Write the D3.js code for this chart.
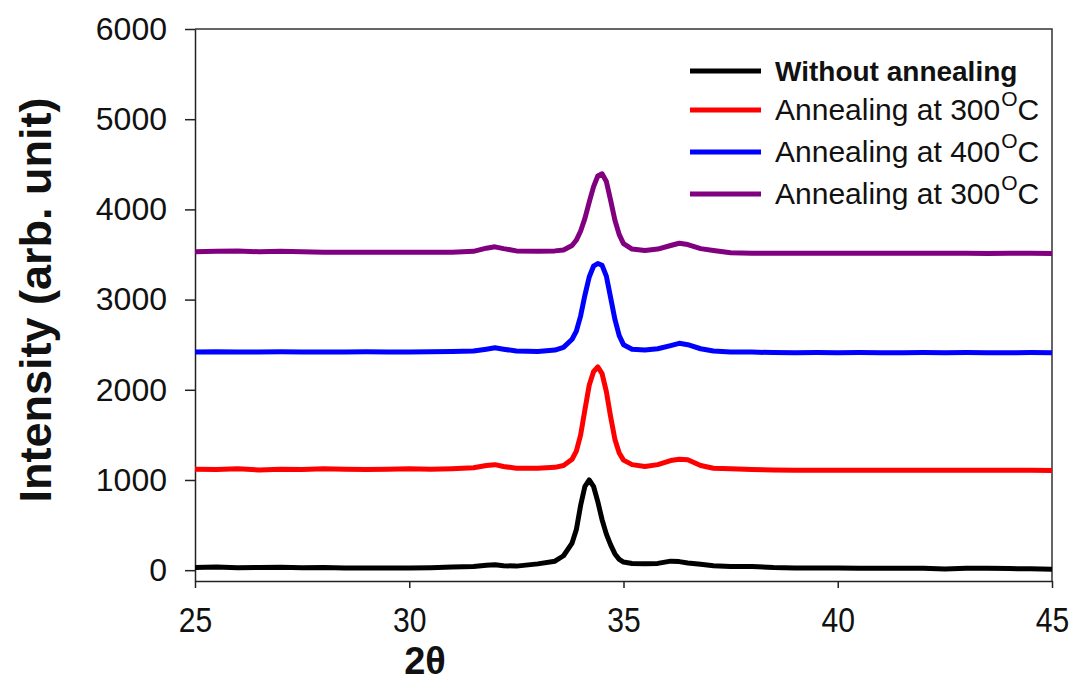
<!DOCTYPE html>
<html>
<head>
<meta charset="utf-8">
<script src="https://cdn.jsdelivr.net/npm/d3@7"></script>
<style>
  body { margin: 0; background: #fff; }
  svg { display: block; font-family: "Liberation Sans", Arial, sans-serif; }
</style>
</head>
<body>
<script>
// 2theta sample positions (shared by all four patterns)
const theta = [25, 25.5, 26, 26.5, 27, 27.5, 28, 28.5, 29, 29.5, 30, 30.5, 31, 31.5,
  31.8, 32, 32.2, 32.5, 33, 33.4, 33.6, 33.8,
  33.9, 34.0, 34.1, 34.2, 34.3, 34.4, 34.5, 34.6, 34.7, 34.8, 34.9, 35.0,
  35.2, 35.5, 35.8, 36.1, 36.3, 36.5, 36.8, 37.1, 37.5,
  38, 38.5, 39, 39.5, 40, 40.5, 41, 41.5, 42, 42.5, 43, 43.5, 44, 44.5, 45];

// intensities
const noAnneal = [30, 35, 28, 30, 32, 28, 30, 25, 25, 25, 25, 28, 35, 40,
  55, 60, 50, 45, 70, 100, 160, 300,
  450, 720, 930, 1000, 930, 760, 560, 400, 280, 180, 120, 90,
  75, 70, 75, 100, 95, 80, 65, 50, 40,
  42, 30, 25, 25, 25, 22, 22, 20, 20, 12, 20, 20, 18, 15, 10];

const anneal300 = [1120, 1115, 1125, 1110, 1120, 1115, 1125, 1120, 1115, 1120, 1125, 1120, 1125, 1135,
  1160, 1170, 1150, 1130, 1130, 1140, 1160, 1230,
  1320, 1500, 1780, 2050, 2200, 2255, 2180, 1980, 1700, 1450, 1300, 1220,
  1170, 1150, 1170, 1215, 1230, 1225, 1160, 1130, 1125,
  1115, 1110, 1108, 1108, 1108, 1108, 1108, 1108, 1108, 1108, 1108, 1108, 1108, 1108, 1105];

const anneal400 = [2420, 2422, 2418, 2420, 2422, 2420, 2418, 2420, 2422, 2420, 2420, 2422, 2425, 2430,
  2450, 2465, 2450, 2430, 2425, 2440, 2470, 2560,
  2650, 2820, 3050, 3250, 3370, 3400, 3380, 3260, 3020, 2780, 2600, 2500,
  2450, 2440, 2455, 2490, 2515, 2500, 2455, 2430, 2420,
  2418, 2412, 2410, 2412, 2410, 2412, 2410, 2410, 2412, 2410, 2412, 2410, 2410, 2412, 2410];

const anneal300b = [3530, 3535, 3540, 3530, 3535, 3530, 3525, 3525, 3525, 3525, 3525, 3525, 3525, 3535,
  3570, 3585, 3565, 3540, 3535, 3540, 3550, 3600,
  3660, 3760, 3900, 4080, 4250, 4370, 4395, 4310, 4100, 3880, 3720, 3620,
  3560, 3545, 3560, 3600, 3625, 3610, 3565, 3545, 3520,
  3515, 3515, 3515, 3515, 3515, 3515, 3515, 3515, 3515, 3515, 3515, 3510, 3515, 3515, 3512];

const seriesNames = ["Without annealing", "Annealing at 300", "Annealing at 400", "Annealing at 300"];
const seriesColors = ["#000000", "#ff0000", "#0000ff", "#800080"];
const seriesValues = [noAnneal, anneal300, anneal400, anneal300b];

const xTicks = [25, 30, 35, 40, 45];
const yTicks = [0, 1000, 2000, 3000, 4000, 5000, 6000];

// layout
const width = 1075, height = 691;
const plotLeft = 195, plotRight = 1052, plotTop = 29, plotBottom = 581;

const svg = d3.select("body").append("svg")
    .attr("width", width)
    .attr("height", height);

const x = d3.scaleLinear().domain([25, 45]).range([plotLeft, plotRight]);
const y = d3.scaleLinear().domain([-120, 6000]).range([plotBottom, plotTop]);

// frame (top and right)
svg.append("path")
    .attr("d", `M${plotLeft},${plotTop}H${plotRight}V${plotBottom}`)
    .attr("fill", "none")
    .attr("stroke", "#333")
    .attr("stroke-width", 1.5);

// axes
const yAxis = svg.append("g")
    .attr("transform", `translate(${plotLeft},0)`)
    .call(d3.axisLeft(y).tickValues(yTicks).tickFormat(d3.format("d"))
        .tickSize(10).tickSizeOuter(0).tickPadding(18));
yAxis.selectAll("path, line").attr("stroke", "#222").attr("stroke-width", 1.5);
yAxis.selectAll("text")
    .attr("font-size", 32)
    .attr("font-family", "Liberation Sans, Arial, sans-serif")
    .attr("fill", "#111");

const xAxis = svg.append("g")
    .attr("transform", `translate(0,${plotBottom})`)
    .call(d3.axisBottom(x).tickValues(xTicks).tickSize(7).tickSizeOuter(0).tickPadding(0));
xAxis.selectAll("path, line").attr("stroke", "#222").attr("stroke-width", 1.5);
xAxis.selectAll("text")
    .attr("font-size", 35)
    .attr("font-family", "Liberation Sans, Arial, sans-serif")
    .attr("fill", "#111")
    .attr("dy", null)
    .attr("y", 51)
    .attr("transform", "scale(0.86,1)");

// series
const line = d3.line()
    .x((d, i) => x(theta[i]))
    .y(d => y(d));

svg.append("g")
    .selectAll("path")
    .data(seriesValues)
    .enter().append("path")
    .attr("d", line)
    .attr("fill", "none")
    .attr("stroke", (d, i) => seriesColors[i])
    .attr("stroke-width", 5)
    .attr("stroke-linejoin", "round");

// axis titles
svg.append("text")
    .attr("transform", "translate(51,300) rotate(-90)")
    .attr("text-anchor", "middle")
    .attr("font-size", 45)
    .attr("font-weight", "bold")
    .attr("fill", "#111")
    .text("Intensity (arb. unit)");

svg.append("text")
    .attr("x", 425)
    .attr("y", 674)
    .attr("text-anchor", "middle")
    .attr("font-size", 38)
    .attr("font-weight", "bold")
    .attr("fill", "#111")
    .text("2θ");

// legend
const legendRowY = [71, 110, 152, 194];
const legend = svg.append("g")
    .selectAll("g")
    .data(seriesNames)
    .enter().append("g")
    .attr("transform", (d, i) => `translate(690,${legendRowY[i]})`);

legend.append("line")
    .attr("x1", 0).attr("x2", 71)
    .attr("stroke", (d, i) => seriesColors[i])
    .attr("stroke-width", 5);

const label = legend.append("text")
    .attr("x", 85)
    .attr("y", 10)
    .attr("font-size", (d, i) => i === 0 ? 28 : 30)
    .attr("font-weight", (d, i) => i === 0 ? "bold" : "normal")
    .attr("fill", "#111");

label.append("tspan").text(d => d);
label.filter((d, i) => i > 0).append("tspan")
    .attr("font-size", 21)
    .attr("dx", 1)
    .attr("dy", -14)
    .text("O");
label.filter((d, i) => i > 0).append("tspan")
    .attr("dy", 14)
    .text("C");
</script>
</body>
</html>
